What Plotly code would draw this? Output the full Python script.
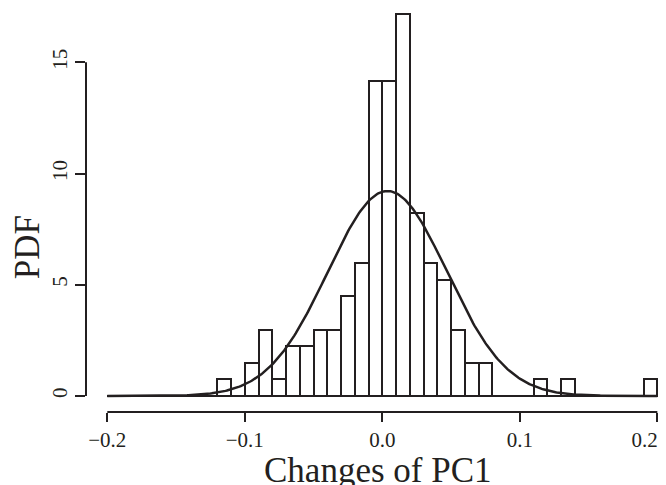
import numpy as np
import plotly.graph_objects as go

# Histogram of changes of PC1 (bin width 0.01, breaks from -0.2 to 0.2)
bin_left_edges = [round(-0.20 + 0.01 * i, 2) for i in range(40)]
counts = [0, 0, 0, 0, 0, 0, 0, 0, 1, 0,   # -0.20 .. -0.11
          2, 4, 1, 3, 3, 4, 4, 6, 8, 19,  # -0.10 .. -0.01
          19, 23, 11, 8, 7, 4, 2, 2, 0, 0,  # 0.00 .. 0.09
          0, 1, 0, 1, 0, 0, 0, 0, 0, 1]   # 0.10 .. 0.19
bin_width = 0.01

# fitted normal density parameters
fit_mean = 0.0037
fit_sd = 0.0433

x_tickvals = [-0.2, -0.1, 0.0, 0.1, 0.2]
# trailing em/thin spaces keep the last label inside the page edge
x_ticktext = ["\u22120.2", "\u22120.1", "0.0", "0.1", "0.2\u2003\u2009"]
y_tickvals = [0, 5, 10, 15]
y_ticktext = ["0", "5", "10", "15"]
x_title = "Changes of PC1"
y_title = "PDF"

n_total = sum(counts)
density = [c / (n_total * bin_width) for c in counts]
centers = [e + bin_width / 2 for e in bin_left_edges]

curve_x = np.linspace(-0.2, 0.2, 401)
curve_y = np.exp(-0.5 * ((curve_x - fit_mean) / fit_sd) ** 2) / (fit_sd * np.sqrt(2 * np.pi))

ink = "#231f20"
font_family = "Liberation Serif, Times New Roman, serif"

fig = go.Figure()
fig.add_trace(go.Bar(x=centers, y=density, width=bin_width,
                     marker=dict(color="white", line=dict(color=ink, width=2)),
                     showlegend=False, hoverinfo="skip"))
# bottom edges of the histogram cells
fig.add_trace(go.Scatter(x=[bin_left_edges[0], bin_left_edges[-1] + bin_width], y=[0, 0],
                         mode="lines", line=dict(color=ink, width=2),
                         showlegend=False, hoverinfo="skip"))
fig.add_trace(go.Scatter(x=curve_x, y=curve_y, mode="lines",
                         line=dict(color=ink, width=2.5),
                         showlegend=False, hoverinfo="skip"))

# R-style axis lines spanning first to last tick
fig.add_shape(type="line", xref="x", yref="paper", x0=x_tickvals[0], x1=x_tickvals[-1],
              y0=0, y1=0, line=dict(color=ink, width=2), layer="above")
fig.add_shape(type="line", xref="paper", yref="y", x0=0, x1=0,
              y0=y_tickvals[0], y1=y_tickvals[-1], line=dict(color=ink, width=2), layer="above")

fig.add_annotation(text=x_title, xref="paper", yref="paper", x=0.503, y=-0.1444,
                   xanchor="center", yanchor="middle", showarrow=False,
                   font=dict(size=35, family=font_family, color=ink))
fig.add_annotation(text=y_title, xref="paper", yref="paper", x=-0.1017, y=0.408,
                   xanchor="center", yanchor="middle", showarrow=False, textangle=-90,
                   font=dict(size=35, family=font_family, color=ink))

# the page body adds an 8px offset, so the figure is sized to the visible area
fig.update_layout(
    width=658, height=477,
    margin=dict(l=78, r=0, t=0, b=73.3),
    paper_bgcolor="white", plot_bgcolor="white",
    bargap=0,
    font=dict(family=font_family, color=ink),
    xaxis=dict(range=[-0.2155, 0.2063], showgrid=False, zeroline=False, showline=False,
               automargin=False, ticklabeloverflow="allow",
               tickmode="array", tickvals=x_tickvals, ticktext=x_ticktext,
               ticks="outside", ticklen=9, tickwidth=2, tickcolor=ink,
               tickfont=dict(size=21, family=font_family, color=ink)),
    yaxis=dict(range=[-0.72, 17.44], showgrid=False, zeroline=False, showline=False,
               automargin=False,
               tickmode="array", tickvals=y_tickvals, ticktext=y_ticktext,
               ticks="outside", ticklen=10, tickwidth=2, tickcolor=ink, tickangle=-90,
               tickfont=dict(size=21, family=font_family, color=ink)),
)

fig.write_html("out.html")
